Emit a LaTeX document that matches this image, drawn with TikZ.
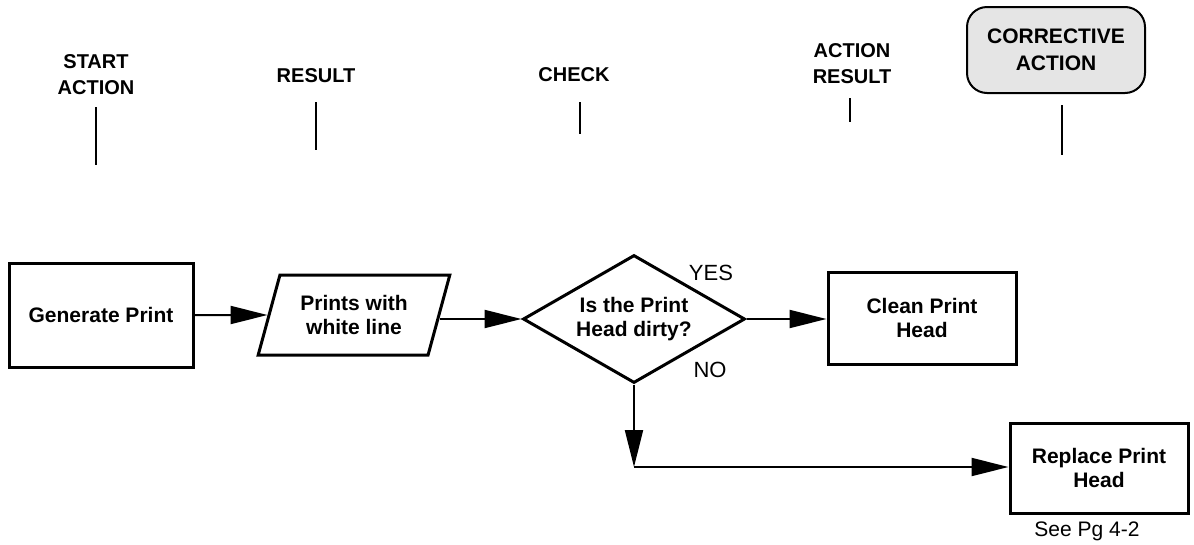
\documentclass[tikz,border=0pt]{standalone}
\usepackage{fontspec}
\setmainfont{Liberation Sans}
\usetikzlibrary{arrows.meta,shapes.geometric}
\begin{document}
\begin{tikzpicture}[x=1pt,y=-1pt,
  box/.style={draw,line width=3pt,inner sep=0pt,align=center,font=\bfseries\fontsize{21}{24}\selectfont},
  hdr/.style={align=center,font=\bfseries\fontsize{20}{26}\selectfont,inner sep=0pt},
  arr/.style={line width=2pt,-{Triangle[length=37pt,width=18pt]}},
  tick/.style={line width=2pt},
  lbl/.style={font=\fontsize{22}{26}\selectfont,inner sep=0pt}]
\useasboundingbox (0,0) rectangle (1194,544);

% header labels
\node[hdr] (h1) at (96,75) {START\\ACTION};
\node[hdr] (h2) at (316,76) {RESULT};
\node[hdr] (h3) at (574,75) {CHECK};
\node[hdr] (h4) at (852,64) {ACTION\\RESULT};
\node[draw,rounded corners=20pt,fill=gray!20,line width=2pt,minimum width=178pt,minimum height=86pt,
      align=center,inner sep=0pt,font=\bfseries\fontsize{21}{27}\selectfont] (h5) at (1056,50) {CORRECTIVE\\ACTION};

\coordinate (t1a) at (96,107);  \coordinate (t1b) at (96,165);
\coordinate (t2a) at (316,102); \coordinate (t2b) at (316,150);
\coordinate (t3a) at (580,102); \coordinate (t3b) at (580,134);
\coordinate (t4a) at (850,98);  \coordinate (t4b) at (850,122);
\coordinate (t5a) at (1062,105);\coordinate (t5b) at (1062,155);
\draw[tick] (t1a) -- (t1b);
\draw[tick] (t2a) -- (t2b);
\draw[tick] (t3a) -- (t3b);
\draw[tick] (t4a) -- (t4b);
\draw[tick] (t5a) -- (t5b);

% flow nodes
\node[box,minimum width=184pt,minimum height=104pt] (gen) at (101,315) {Generate Print};
\node[box,trapezium,trapezium left angle=68.2,trapezium right angle=111.8,trapezium stretches=true,
      minimum width=192pt,minimum height=80pt] (par) at (354,315) {Prints with\\white line};
\node[box,diamond,shape aspect=1.73,minimum width=222pt,minimum height=128pt] (dia) at (634,319) {Is the Print\\Head dirty?};
\node[box,minimum width=188pt,minimum height=92pt] (clean) at (922,318) {Clean Print\\Head};
\node[box,minimum width=178pt,minimum height=90pt] (rep) at (1099,468) {Replace Print\\Head};

\node[lbl] (yes) at (711,273) {YES};
\node[lbl] (no) at (710,370) {NO};
\node[font=\fontsize{21}{24}\selectfont,inner sep=0pt] (see) at (1087,531) {See Pg 4-2};

% connectors
\coordinate (corner) at (634,467);
\draw[arr] (gen.east) -- (par.west);
\draw[arr] (dia.west -| par.east) -- (dia.west);
\draw[arr] (dia.east) -- (clean.west |- dia.east);
\draw[arr] (dia.south) -- (corner);
\draw[arr] (corner) -- (rep.west |- corner);
\end{tikzpicture}
\end{document}
